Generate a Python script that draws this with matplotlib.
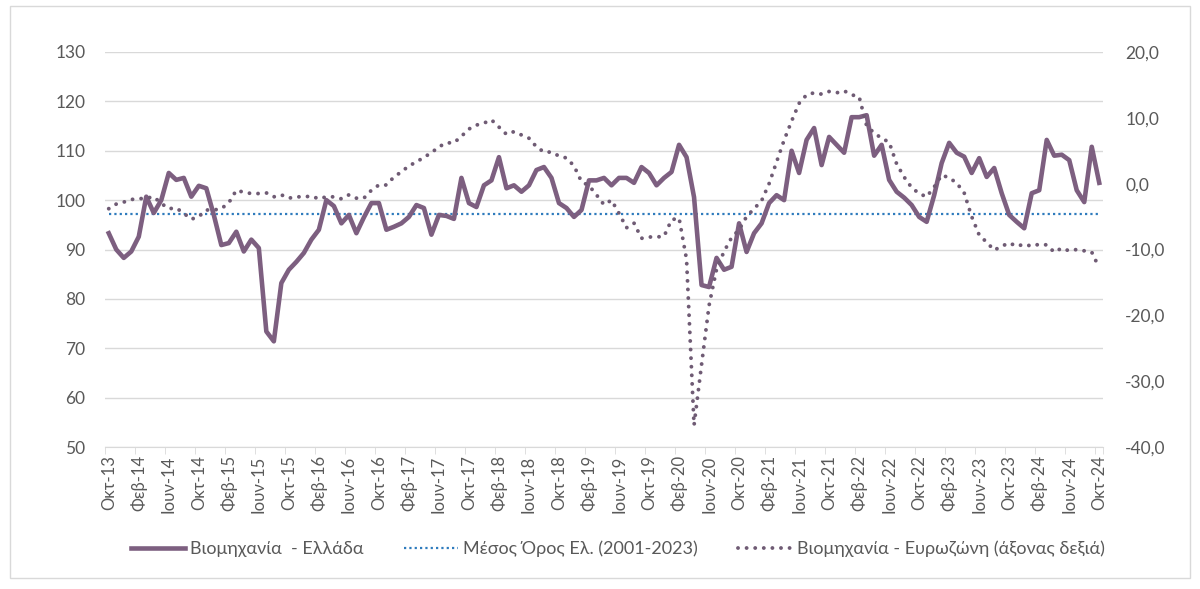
import matplotlib
matplotlib.use("Agg")
import matplotlib.pyplot as plt
from matplotlib.patches import Rectangle
from matplotlib.ticker import FuncFormatter, FixedLocator
import numpy as np

plt.rcParams['font.family'] = ['Lato', 'Open Sans', 'DejaVu Sans']

# ---- data (monthly, Οκτ-13 .. Οκτ-24) ----
greece = [93.3, 90.0, 88.3, 89.6, 92.6, 100.7, 97.4, 100.0, 105.5, 104.1,
          104.5, 100.7, 102.9, 102.4, 97.0, 90.9, 91.3, 93.6, 89.6, 92.0,
          90.3, 73.4, 71.4, 83.2, 85.9, 87.5, 89.3, 92.0, 94.0, 100.0,
          98.8, 95.3, 97.0, 93.3, 96.5, 99.4, 99.4, 94.0, 94.6, 95.3,
          96.6, 99.0, 98.4, 93.0, 97.0, 96.8, 96.2, 104.5, 99.4, 98.6,
          103.0, 104.0, 108.7, 102.4, 103.0, 101.7, 103.0, 106.1, 106.7, 104.5,
          99.4, 98.4, 96.6, 98.0, 104.0, 104.0, 104.5, 103.0, 104.5, 104.5,
          103.5, 106.7, 105.5, 103.0, 104.5, 105.7, 111.2, 108.7, 100.6, 82.8,
          82.4, 88.3, 85.9, 86.5, 95.3, 89.5, 93.3, 95.3, 99.4, 101.0,
          100.0, 110.0, 105.5, 112.2, 114.6, 107.1, 112.8, 111.2, 109.6, 116.8,
          116.8, 117.2, 109.0, 111.2, 104.1, 101.7, 100.5, 99.0, 96.6, 95.6,
          101.0, 107.5, 111.6, 109.6, 108.8, 105.5, 108.5, 104.7, 106.5, 101.4,
          97.0, 95.6, 94.3, 101.4, 102.0, 112.2, 109.0, 109.2, 108.1, 102.0,
          99.6, 110.8, 103.5]

eurozone = [-3.8, -3.1, -2.8, -2.4, -2.3, -2.2, -2.0, -3.0, -3.8, -3.7,
            -4.5, -5.4, -5.0, -4.0, -4.0, -3.8, -2.9, -1.0, -1.3, -1.5,
            -1.5, -1.4, -2.0, -1.7, -2.2, -2.0, -2.0, -1.9, -2.3, -2.0,
            -2.0, -2.3, -1.7, -2.2, -2.2, -1.0, -0.2, -0.2, 1.0, 1.8,
            2.7, 3.3, 4.0, 4.7, 5.6, 6.2, 6.2, 7.2, 8.3, 8.9,
            9.2, 9.7, 8.6, 7.5, 7.9, 7.4, 6.9, 5.6, 4.8, 4.8,
            4.2, 3.9, 2.7, 0.3, -0.3, -1.7, -3.2, -2.5, -4.5, -6.7,
            -6.0, -8.3, -8.1, -8.1, -8.0, -5.5, -5.2, -11.5, -36.7, -27.5,
            -18.5, -13.0, -10.3, -8.2, -7.0, -5.0, -3.8, -2.6, 0.0, 3.3,
            6.6, 9.5, 12.2, 13.5, 13.8, 13.6, 14.0, 13.8, 14.1, 13.5,
            13.2, 8.8, 7.7, 6.9, 6.3, 3.0, 1.0, -0.6, -1.5, -2.0,
            -0.5, 1.3, 0.9, 0.1, -1.4, -5.0, -7.8, -8.9, -10.1, -9.5,
            -9.0, -9.5, -9.2, -9.5, -9.2, -9.3, -10.4, -9.8, -10.2, -10.0,
            -10.2, -10.4, -12.8]

mean_value = 97.2

month_names = ['Οκτ', 'Φεβ', 'Ιουν']
start_year = 13
n_months = len(greece)

labels = []
for k in range(0, n_months, 4):
    m = k // 4
    name = month_names[m % 3]
    yr = start_year + (m + 2) // 3
    labels.append(f"{name}-{yr}")

legend_labels = ['Βιομηχανία  - Ελλάδα', 'Μέσος Όρος Ελ. (2001-2023)',
                 'Βιομηχανία - Ευρωζώνη (άξονας δεξιά)']

# ---- style ----
c_gr = '#7d5f80'
c_eu = '#6f5b74'
c_mean = '#2e7bbd'
c_text = '#595959'
c_grid = '#d9d9d9'

fig = plt.figure(figsize=(12, 5.89), dpi=100)
ax = fig.add_axes([105/1200, 1-447/589, (1103-105)/1200, (447-52)/589])
ax2 = ax.twinx()

x = np.arange(n_months)

ax.set_xlim(-0.5, n_months - 0.5)
ax.set_ylim(50, 130)
ax2.set_ylim(-40, 20)

ax.set_yticks(np.arange(50, 131, 10))
ax2.set_yticks(np.arange(-40, 21, 10))
ax2.yaxis.set_major_formatter(FuncFormatter(lambda v, p: f"{v:.1f}".replace('.', ',')))

ax.grid(axis='y', color=c_grid, lw=1)
ax.set_axisbelow(True)
for a in (ax, ax2):
    for s in ('left', 'right', 'top', 'bottom'):
        a.spines[s].set_visible(False)
ax.spines['bottom'].set_visible(True)
ax.spines['bottom'].set_color(c_grid)

ax.tick_params(axis='y', length=0, labelsize=12.5, labelcolor=c_text, pad=14)
ax2.tick_params(axis='y', length=0, labelsize=12.5, labelcolor=c_text, pad=16)

ax.set_xticks(x[::4])
ax.set_xticklabels(labels, rotation=90, fontsize=12, color=c_text)
ax.tick_params(axis='x', which='major', length=0, pad=6)
ax.xaxis.set_minor_locator(FixedLocator(list(np.arange(-0.5, n_months, 4)) + [n_months - 0.5]))
ax.tick_params(axis='x', which='minor', length=5, color=c_grid)

l1, = ax.plot(x, greece, color=c_gr, lw=3.3, solid_joinstyle='round', zorder=3)
l2, = ax.plot(x, [mean_value] * n_months, color=c_mean, lw=1.6,
              linestyle=(0, (1, 1.4)), zorder=2)
l3, = ax2.plot(x, eurozone, color=c_eu, lw=2.8, linestyle=(0, (0.01, 2.2)),
               dash_capstyle='round', zorder=2)

fig.legend([l1, l2, l3], legend_labels, loc='center', ncol=3,
           bbox_to_anchor=(0.515, 1 - 549/589), frameon=False,
           fontsize=13, labelcolor=c_text, handlelength=3.0,
           columnspacing=2.2, handletextpad=0.3)

fig.patches.append(Rectangle((10/1200, 1 - 578/589), 1180/1200, 572/589,
                             transform=fig.transFigure, fill=False,
                             edgecolor=c_grid, lw=1))

fig.savefig('out.png', dpi=100)
